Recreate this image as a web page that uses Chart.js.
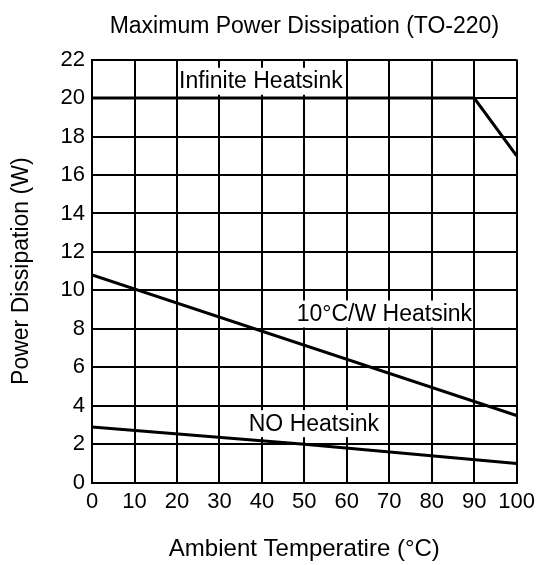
<!DOCTYPE html>
<html>
<head>
<meta charset="utf-8">
<script src="https://cdn.jsdelivr.net/npm/chart.js@4"></script>
<style>
  body { margin: 0; background: #fff; }
  #wrap { width: 536px; height: 565px; }
</style>
</head>
<body>
<div id="wrap"><canvas id="myChart"></canvas></div>
<script>
// Datos
const tempInfinite = [0, 90, 100];
const powerInfinite = [20, 20, 17];

const temp10CW = [0, 100];
const power10CW = [10.8, 3.5];

const tempNoSink = [0, 50, 100];
const powerNoSink = [2.9, 2.0, 1.0];

// Etiquetas de cada curva (posición en unidades de los ejes)
const curveLabels = ["Infinite Heatsink", "10°C/W Heatsink", "NO Heatsink"];
const labelX = [20.5, 48.2, 36.9];
const labelY = [20.9, 8.8, 3.1];

const fontFamily = "'Liberation Sans', Arial, sans-serif";

function toPoints(xs, ys) {
    return xs.map((x, i) => ({ x: x, y: ys[i] }));
}

function lineDataset(label, xs, ys) {
    return {
        label: label,
        data: toPoints(xs, ys),
        borderColor: "#000",
        borderWidth: 3,
        pointRadius: 0,
        tension: 0,
        fill: false
    };
}

// Plugin para dibujar los textos con fondo blanco sobre la rejilla
const curveLabelPlugin = {
    id: "curveLabels",
    afterDatasetsDraw(chart) {
        const ctx = chart.ctx;
        const xs = chart.scales.x;
        const ys = chart.scales.y;
        ctx.save();
        ctx.font = "23px " + fontFamily;
        ctx.textBaseline = "middle";
        ctx.textAlign = "left";
        curveLabels.forEach((text, i) => {
            const px = xs.getPixelForValue(labelX[i]);
            const py = ys.getPixelForValue(labelY[i]);
            const w = ctx.measureText(text).width;
            ctx.fillStyle = "#fff";
            ctx.fillRect(px - 1, py - 13, w + 2, 27);
            ctx.fillStyle = "#000";
            ctx.fillText(text, px, py + 1);
        });
        ctx.restore();
    }
};

const ctx = document.getElementById("myChart");

new Chart(ctx.getContext("2d"), {
    type: "line",
    data: {
        datasets: [
            lineDataset("Infinite Heatsink", tempInfinite, powerInfinite),
            lineDataset("10°C/W Heatsink", temp10CW, power10CW),
            lineDataset("NO Heatsink", tempNoSink, powerNoSink)
        ]
    },
    options: {
        responsive: true,
        maintainAspectRatio: false,
        animation: false,
        layout: { padding: 0 },
        scales: {
            x: {
                type: "linear",
                min: 0,
                max: 100,
                afterFit(scale) {
                    // acercar el área al borde derecho
                    scale.paddingRight = Math.max(0, scale.paddingRight - 5);
                },
                ticks: {
                    stepSize: 10,
                    color: "#000",
                    padding: 6,
                    maxRotation: 0,
                    font: { family: fontFamily, size: 22 }
                },
                grid: { color: "#000", lineWidth: 2, drawTicks: false },
                border: { color: "#000", width: 2 },
                title: {
                    display: true,
                    text: "Ambient Temperatire (°C)",
                    color: "#000",
                    font: { family: fontFamily, size: 24 },
                    padding: { top: 14, bottom: 1 }
                }
            },
            y: {
                min: 0,
                max: 22,
                ticks: {
                    stepSize: 2,
                    color: "#000",
                    padding: 7,
                    font: { family: fontFamily, size: 22 }
                },
                grid: { color: "#000", lineWidth: 2, drawTicks: false },
                border: { color: "#000", width: 2 },
                title: {
                    display: true,
                    text: "Power Dissipation (W)",
                    color: "#000",
                    font: { family: fontFamily, size: 23 },
                    padding: { top: 8, bottom: 18 }
                }
            }
        },
        plugins: {
            legend: { display: false },
            tooltip: { enabled: false },
            title: {
                display: true,
                fullSize: false,
                text: "Maximum Power Dissipation (TO-220)",
                color: "#000",
                font: { family: fontFamily, size: 23, weight: "normal" },
                padding: { top: 13, bottom: 19 }
            }
        }
    },
    plugins: [curveLabelPlugin]
});
</script>
</body>
</html>
